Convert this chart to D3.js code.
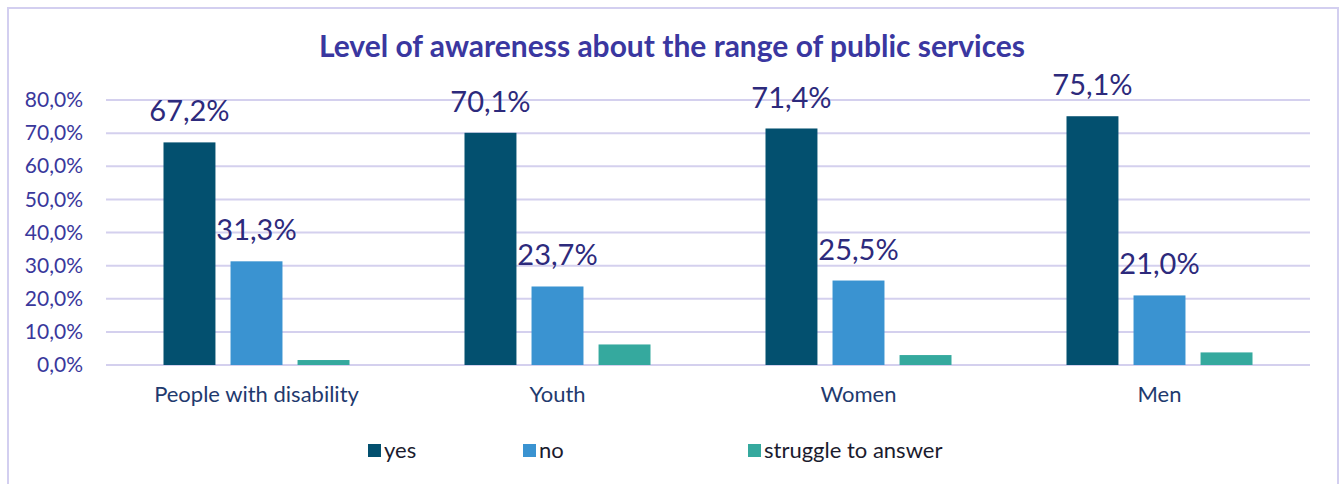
<!DOCTYPE html>
<html>
<head>
<meta charset="utf-8">
<script src="https://cdn.jsdelivr.net/npm/d3@7"></script>
<style>
  html, body { margin: 0; padding: 0; background: #fff; }
  svg { display: block; }
</style>
</head>
<body>
<svg id="chart" width="1340" height="484"></svg>
<script>
// Survey results: awareness of the range of public services, by group
const categories = ["People with disability", "Youth", "Women", "Men"];
const seriesNames = ["yes", "no", "struggle to answer"];
const yesValues = [67.2, 70.1, 71.4, 75.1];
const noValues = [31.3, 23.7, 25.5, 21.0];
const struggleValues = [1.5, 6.2, 3.0, 3.8];
const yTicks = [0, 10, 20, 30, 40, 50, 60, 70, 80];
const seriesColors = ["#03506f", "#3a93d1", "#35a99e"];
const title = "Level of awareness about the range of public services";

const series = [yesValues, noValues, struggleValues];
const fmt = v => v.toFixed(1).replace(".", ",") + "%";
const FONT = "Lato, 'Open Sans', sans-serif";

const svg = d3.select("#chart");
const W = 1340, H = 484;
const margin = { left: 106, right: 30, top: 100, bottom: 119 };
const plotW = W - margin.left - margin.right;
const plotH = H - margin.top - margin.bottom;

// chart frame
svg.append("rect")
  .attr("x", 8).attr("y", 8)
  .attr("width", 1330).attr("height", 490)
  .attr("fill", "#fff")
  .attr("stroke", "#d3cff0").attr("stroke-width", 2);

svg.append("text")
  .attr("x", 672).attr("y", 57)
  .attr("text-anchor", "middle")
  .attr("font-family", FONT)
  .attr("font-weight", "bold")
  .attr("font-size", 30)
  .attr("fill", "#3a37a0")
  .text(title);

const g = svg.append("g").attr("transform", `translate(${margin.left},${margin.top})`);

const x0 = d3.scaleBand().domain(categories).range([0, plotW]).paddingInner(0).paddingOuter(0);
const x1 = d3.scaleBand().domain(seriesNames).range([x0.bandwidth() / 2 - 93, x0.bandwidth() / 2 + 93]).paddingInner(0.225);
const y = d3.scaleLinear().domain([0, 80]).range([plotH, 0]);

// horizontal gridlines
g.selectAll("line.grid").data(yTicks).join("line")
  .attr("class", "grid")
  .attr("x1", 0).attr("x2", plotW)
  .attr("y1", d => y(d)).attr("y2", d => y(d))
  .attr("stroke", "#d4d0ee").attr("stroke-width", 2);

// y axis labels
const yAxis = d3.axisLeft(y).tickValues(yTicks).tickFormat(fmt).tickSize(0).tickPadding(23);
const ya = g.append("g").call(yAxis);
ya.select(".domain").remove();
ya.selectAll("text")
  .attr("font-family", FONT)
  .attr("font-size", 21)
  .attr("fill", "#3a389c");

// x axis labels
const xAxis = d3.axisBottom(x0).tickSize(0).tickPadding(21);
const xa = g.append("g").attr("transform", `translate(0,${plotH})`).call(xAxis);
xa.select(".domain").remove();
xa.selectAll("text")
  .attr("font-family", FONT)
  .attr("font-size", 22)
  .attr("fill", "#1f3a6e");

// bars with value labels on "yes" and "no"
const groups = g.selectAll("g.cat").data(categories).join("g")
  .attr("class", "cat")
  .attr("transform", d => `translate(${x0(d)},0)`);

groups.each(function (cat, ci) {
  const grp = d3.select(this);
  seriesNames.forEach((s, si) => {
    const v = series[si][ci];
    grp.append("rect")
      .attr("x", x1(s))
      .attr("y", y(v))
      .attr("width", x1.bandwidth())
      .attr("height", y(0) - y(v))
      .attr("fill", seriesColors[si]);
    if (si < 2) {
      grp.append("text")
        .attr("x", x1(s) + x1.bandwidth() / 2)
        .attr("y", y(v) - 21)
        .attr("text-anchor", "middle")
        .attr("font-family", FONT)
        .attr("font-size", 29)
        .attr("fill", "#2d2a7c")
        .text(fmt(v));
    }
  });
});

// legend
const legendX = [368, 523, 748];
const legend = svg.append("g");
seriesNames.forEach((s, i) => {
  legend.append("rect")
    .attr("x", legendX[i]).attr("y", 444)
    .attr("width", 13).attr("height", 13)
    .attr("fill", seriesColors[i]);
  legend.append("text")
    .attr("x", legendX[i] + 16).attr("y", 458)
    .attr("font-family", FONT)
    .attr("font-size", 22)
    .attr("fill", "#1b1b2e")
    .text(s);
});
</script>
</body>
</html>
